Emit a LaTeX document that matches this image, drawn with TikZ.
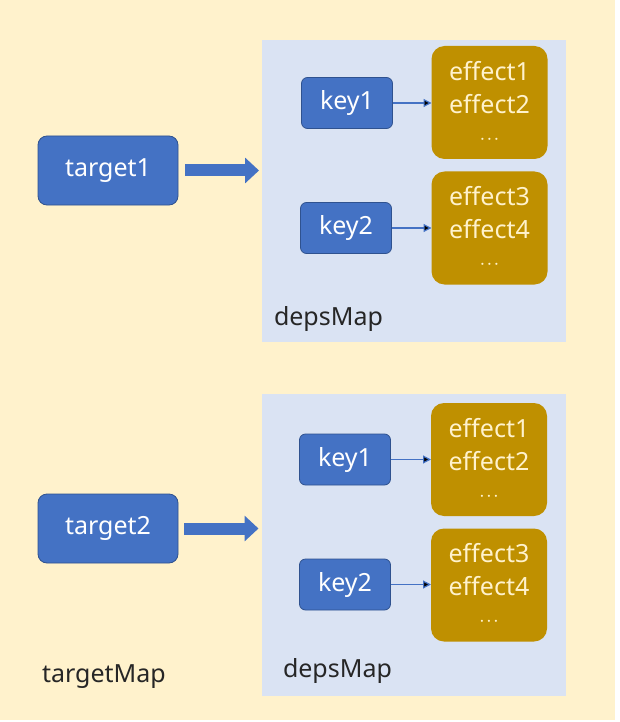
\documentclass[tikz,border=0pt]{standalone}
\usepackage{fontspec}
\setmainfont{Noto Sans}
\usepackage{tikz}
\usetikzlibrary{arrows.meta,positioning,calc}
\definecolor{cream}{HTML}{FFF2CC}
\definecolor{mapblue}{HTML}{DAE3F3}
\definecolor{keyblue}{HTML}{4472C4}
\definecolor{keyline}{HTML}{2F528F}
\definecolor{gold}{HTML}{BF9000}
\newcommand{\effects}[2]{effect#1\\effect#2\\[-2pt]\fontsize{20}{20}\selectfont$\cdot\!\cdot\!\cdot$}

\begin{document}
\begin{tikzpicture}[x=1pt,y=-1pt,
  every node/.style={inner sep=0pt,outer sep=0pt},
  depsbox/.style={fill=mapblue,minimum width=304pt,minimum height=302pt},
  keybox/.style={fill=keyblue,draw=keyline,line width=0.8pt,rounded corners=6pt,
    text=white,minimum width=91pt,minimum height=51pt,font=\fontsize{25}{30}\selectfont},
  targetbox/.style={keybox,rounded corners=9pt,minimum width=140pt,minimum height=69pt},
  effbox/.style={fill=gold,rounded corners=13pt,text=cream,align=center,
    minimum width=116pt,minimum height=113pt,font=\fontsize{25}{33}\selectfont},
  maplabel/.style={anchor=base west,text=black!85,font=\fontsize{25}{30}\selectfont},
  bigarrow/.style={draw=keyblue,line width=12pt,-{Triangle[length=14pt,width=25pt]}},
  smallarrow/.style={draw=keyblue,line width=1.2pt,-{Triangle[length=8pt,width=8pt]}}]
\useasboundingbox (0,0) rectangle (619,722);
\fill[white] (0,0) rectangle (619,722);
\fill[cream] (0,0) rectangle (615,720);
% first target
\node[depsbox] (deps1) at (414,191) {};
\node[maplabel] (depslabel1) at (274,325) {depsMap};
\node[targetbox] (target1) at (108,170.5) {target1};
\node[keybox] (key1a) at (347,103) {key1};
\node[keybox] (key2a) at (346,228) {key2};
\node[effbox] (eff1a) at (489.5,102.5) {\effects{1}{2}};
\node[effbox] (eff2a) at (489.5,228) {\effects{3}{4}};
% second target
\node[depsbox] (deps2) at (413.5,544.5) {};
\node[maplabel] (depslabel2) at (283,677) {depsMap};
\node[targetbox] (target2) at (108,528.5) {target2};
\node[keybox] (key1b) at (345,459.5) {key1};
\node[keybox] (key2b) at (345,584.5) {key2};
\node[effbox] (eff1b) at (489,459.5) {\effects{1}{2}};
\node[effbox] (eff2b) at (489,585) {\effects{3}{4}};
\node[maplabel] (mainlabel) at (42,682) {targetMap};
\draw[bigarrow,shorten <=7pt,shorten >=3pt] (target1.east) -- (target1.east -| deps1.west);
\draw[bigarrow,shorten <=6pt,shorten >=3pt] (target2.east) -- (target2.east -| deps2.west);
\path[smallarrow]
(key1a) edge (key1a -| eff1a.west)
(key2a) edge (key2a -| eff2a.west)
(key1b) edge (key1b -| eff1b.west)
(key2b) edge (key2b -| eff2b.west);
\end{tikzpicture}
\end{document}
